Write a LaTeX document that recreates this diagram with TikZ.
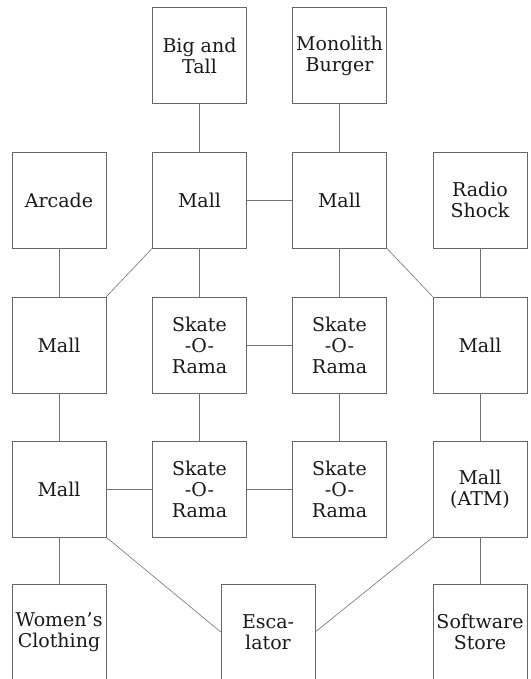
\documentclass[tikz,border=0pt]{standalone}
\usepackage{fontspec}
\setmainfont{DejaVu Serif}
\begin{document}
\begin{tikzpicture}[x=1pt,y=-1pt,
  box/.style={draw=black!60, line width=0.6pt, minimum width=94pt, minimum height=96pt,
    inner sep=0pt, align=center, text=black!90,
    font=\fontsize{19}{21}\selectfont},
  conn/.style={draw=black!55, line width=0.6pt}]
\useasboundingbox (0,0) rectangle (530,679);
\clip (0,0) rectangle (530,679);
\fill[white] (0,0) rectangle (530,679);
% row 1
\node[box] (bt) at (199.5,55.5) {Big and\\Tall};
\node[box] (mb) at (339.5,55.5) {Monolith\\Burger};
% row 2
\node[box] (arc) at (59,200) {Arcade};
\node[box] (m2) at (199.5,200) {Mall};
\node[box] (m3) at (339.5,200) {Mall};
\node[box] (rs) at (480,200) {Radio\\Shock};
% row 3
\node[box] (ml3) at (59,345) {Mall};
\node[box] (s23) at (199.5,345) {Skate\\-O-\\Rama};
\node[box] (s33) at (339.5,345) {Skate\\-O-\\Rama};
\node[box] (mr3) at (480,345) {Mall};
% row 4
\node[box] (ml4) at (59,489) {Mall};
\node[box] (s24) at (199.5,489) {Skate\\-O-\\Rama};
\node[box] (s34) at (339.5,489) {Skate\\-O-\\Rama};
\node[box] (atm) at (480,489) {Mall\\(ATM)};
% row 5
\node[box] (wc) at (59,632) {Women's\\Clothing};
\node[box] (esc) at (268,632) {Esca-\\lator};
\node[box] (ss) at (480,632) {Software\\Store};
% connectors
\draw[conn] (bt) -- (m2);
\draw[conn] (mb) -- (m3);
\draw[conn] (m2) -- (m3);
\draw[conn] (arc) -- (ml3);
\draw[conn] (m2.south west) -- (ml3.north east);
\draw[conn] (m2) -- (s23);
\draw[conn] (m3) -- (s33);
\draw[conn] (m3.south east) -- (mr3.north west);
\draw[conn] (rs) -- (mr3);
\draw[conn] (s23) -- (s33);
\draw[conn] (ml3) -- (ml4);
\draw[conn] (s23) -- (s24);
\draw[conn] (s33) -- (s34);
\draw[conn] (mr3) -- (atm);
\draw[conn] (ml4) -- (s24);
\draw[conn] (s24) -- (s34);
\draw[conn] (ml4) -- (wc);
\draw[conn] (ml4.south east) -- (esc.west);
\draw[conn] (atm.south west) -- (esc.east);
\draw[conn] (atm) -- (ss);
\end{tikzpicture}
\end{document}
